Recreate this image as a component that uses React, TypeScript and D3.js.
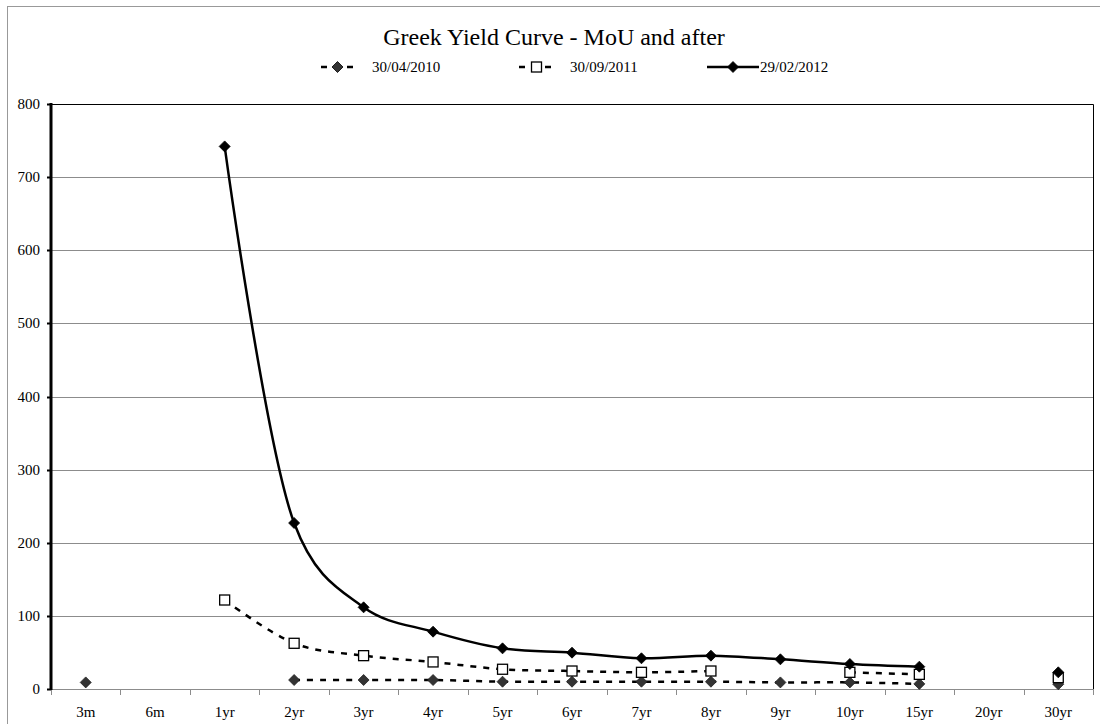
import { useEffect, useRef } from 'react';
import * as d3 from 'd3';

const categories = ['3m', '6m', '1yr', '2yr', '3yr', '4yr', '5yr', '6yr', '7yr', '8yr', '9yr', '10yr', '15yr', '20yr', '30yr'];

// null = no quote for that tenor
const apr2010: (number | null)[] = [9, null, null, 12.3, 12.3, 12.3, 10, 10, 10, 10, 9, 9, 7, null, 6.5];
const sep2011: (number | null)[] = [null, null, 121.7, 62.5, 45.6, 37, 27, 24.6, 22.8, 24.6, null, 22.8, 20, null, 15.5];
const feb2012: (number | null)[] = [null, null, 742, 227, 111.7, 78.4, 55.6, 49.7, 42, 45.6, 40.6, 34.2, 30.5, null, 22.8];

const seriesNames = ['30/04/2010', '30/09/2011', '29/02/2012'];
const yTicks = [0, 100, 200, 300, 400, 500, 600, 700, 800];

const FONT = '"Liberation Serif", "Times New Roman", serif';

export default function App() {
  const ref = useRef<SVGSVGElement>(null);

  useEffect(() => {
    if (!ref.current) return;
    const svg = d3.select(ref.current);
    svg.selectAll('*').remove();

    const left = 51, right = 1093, top = 104, bottom = 689;

    const x = d3.scaleBand<string>().domain(categories).range([left, right]);
    const y = d3.scaleLinear().domain([0, 800]).range([bottom, top]);
    const cx = (c: string) => (x(c) as number) + x.bandwidth() / 2;

    // outer chart border
    svg.append('rect')
      .attr('x', 7.5).attr('y', 6.5).attr('width', 1100).attr('height', 730)
      .attr('fill', 'white').attr('stroke', '#999').attr('stroke-width', 1);

    // gridlines
    svg.append('g').selectAll('line')
      .data(yTicks.filter(t => t > 0 && t < 800))
      .enter().append('line')
      .attr('x1', left).attr('x2', right)
      .attr('y1', d => Math.round(y(d)) + 0.5).attr('y2', d => Math.round(y(d)) + 0.5)
      .attr('stroke', '#8c8c8c').attr('stroke-width', 1);

    // plot area border (top + right)
    svg.append('path')
      .attr('d', `M${left},${top + 0.5}H${right + 0.5}V${bottom}`)
      .attr('fill', 'none').attr('stroke', '#000').attr('stroke-width', 1);

    // x axis line + ticks at category boundaries
    svg.append('line')
      .attr('x1', left).attr('x2', right + 1).attr('y1', bottom + 0.5).attr('y2', bottom + 0.5)
      .attr('stroke', '#8c8c8c');
    svg.append('g').selectAll('line')
      .data(d3.range(categories.length + 1))
      .enter().append('line')
      .attr('x1', i => Math.round(left + i * x.step()) + 0.5)
      .attr('x2', i => Math.round(left + i * x.step()) + 0.5)
      .attr('y1', bottom).attr('y2', bottom + 6)
      .attr('stroke', '#8c8c8c');
    svg.append('g').selectAll('text')
      .data(categories)
      .enter().append('text')
      .attr('x', d => cx(d)).attr('y', 717)
      .attr('text-anchor', 'middle')
      .attr('font-family', FONT).attr('font-size', 15)
      .text(d => d);

    // y axis
    svg.append('line')
      .attr('x1', left).attr('x2', left).attr('y1', top - 1).attr('y2', bottom + 1)
      .attr('stroke', '#000').attr('stroke-width', 3);
    svg.append('g').selectAll('line')
      .data(yTicks)
      .enter().append('line')
      .attr('x1', left - 4).attr('x2', left)
      .attr('y1', d => Math.round(y(d)) + 0.5).attr('y2', d => Math.round(y(d)) + 0.5)
      .attr('stroke', '#000').attr('stroke-width', 2);
    svg.append('g').selectAll('text')
      .data(yTicks)
      .enter().append('text')
      .attr('x', 40).attr('y', d => y(d) + 5)
      .attr('text-anchor', 'end')
      .attr('font-family', FONT).attr('font-size', 15)
      .text(d => d);

    // series
    const line = d3.line<[string, number | null]>()
      .defined(d => d[1] !== null)
      .x(d => cx(d[0]))
      .y(d => y(d[1] as number))
      .curve(d3.curveCatmullRom.alpha(0.25));

    const diamond = (s: number) => `M0,${-s}L${s},0L0,${s}L${-s},0Z`;

    const drawSeries = (vals: (number | null)[], dashed: boolean, marker: string) => {
      const pts = categories.map((c, i) => [c, vals[i]] as [string, number | null]);
      svg.append('path')
        .datum(pts)
        .attr('fill', 'none')
        .attr('stroke', '#000')
        .attr('stroke-width', 2.5)
        .attr('stroke-dasharray', dashed ? '6,7' : null)
        .attr('d', line);
      const g = svg.append('g');
      pts.filter(d => d[1] !== null).forEach(d => {
        const px = cx(d[0]), py = y(d[1] as number);
        if (marker === 'square') {
          g.append('rect')
            .attr('x', px - 5).attr('y', py - 5).attr('width', 10).attr('height', 10)
            .attr('fill', 'white').attr('stroke', '#000').attr('stroke-width', 1.3);
        } else {
          g.append('path')
            .attr('d', diamond(5.5))
            .attr('transform', `translate(${px},${py})`)
            .attr('fill', marker === 'grey' ? '#333' : '#000')
            .attr('stroke', marker === 'grey' ? '#222' : '#000')
            .attr('stroke-width', 0.8);
        }
      });
    };

    drawSeries(apr2010, true, 'grey');
    drawSeries(sep2011, true, 'square');
    drawSeries(feb2012, false, 'black');

    // title
    svg.append('text')
      .attr('x', 554).attr('y', 45)
      .attr('text-anchor', 'middle')
      .attr('font-family', FONT).attr('font-size', 24)
      .text('Greek Yield Curve - MoU and after');

    // legend
    const legend = [
      { name: seriesNames[0], x1: 321, x2: 354, m: 'grey', dashed: true, tx: 372 },
      { name: seriesNames[1], x1: 519, x2: 554, m: 'square', dashed: true, tx: 570 },
      { name: seriesNames[2], x1: 707, x2: 759, m: 'black', dashed: false, tx: 760 },
    ];
    const ly = 67;
    legend.forEach(l => {
      svg.append('line')
        .attr('x1', l.x1).attr('x2', l.x2).attr('y1', ly).attr('y2', ly)
        .attr('stroke', '#000').attr('stroke-width', 2.5)
        .attr('stroke-dasharray', l.dashed ? '6,7' : null);
      const mx = (l.x1 + l.x2) / 2;
      if (l.m === 'square') {
        svg.append('rect')
          .attr('x', mx - 5).attr('y', ly - 5).attr('width', 10).attr('height', 10)
          .attr('fill', 'white').attr('stroke', '#000').attr('stroke-width', 1.3);
      } else {
        svg.append('path')
          .attr('d', diamond(5.5))
          .attr('transform', `translate(${mx},${ly})`)
          .attr('fill', l.m === 'grey' ? '#333' : '#000')
          .attr('stroke', '#000').attr('stroke-width', 0.8);
      }
      svg.append('text')
        .attr('x', l.tx).attr('y', ly + 5)
        .attr('font-family', FONT).attr('font-size', 15)
        .text(l.name);
    });
  }, []);

  return (
    <svg
      ref={ref}
      width={1100}
      height={724}
      style={{ position: 'fixed', left: 0, top: 0, background: 'white' }}
    />
  );
}
